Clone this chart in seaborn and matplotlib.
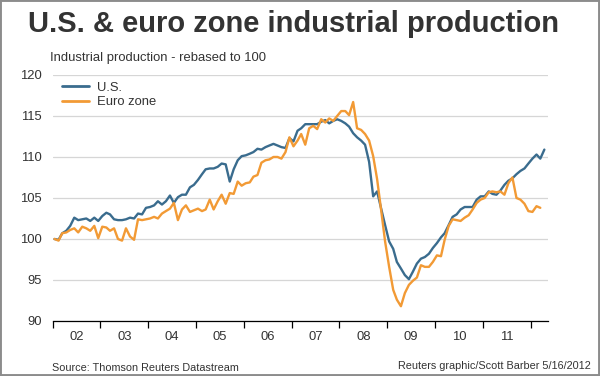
import matplotlib
matplotlib.use("Agg")
import matplotlib.pyplot as plt
from matplotlib.patches import Rectangle
import pandas as pd
import seaborn as sns

# %%
# Monthly industrial production, rebased to Jan 2002 = 100
us = [
    100.0, 99.9, 100.7, 101.0, 101.6, 102.6, 102.3, 102.4, 102.5, 102.2, 102.6, 102.2,  # 2002
    102.8, 103.2, 103.0, 102.4, 102.3, 102.3, 102.4, 102.6, 102.5, 103.1, 103.0, 103.8,  # 2003
    103.9, 104.1, 104.6, 104.2, 104.6, 105.3, 104.4, 105.1, 105.4, 105.4, 106.3, 106.6,  # 2004
    107.2, 107.9, 108.5, 108.6, 108.6, 108.8, 109.2, 109.1, 107.0, 108.5, 109.6, 110.1,  # 2005
    110.2, 110.4, 110.6, 111.0, 110.9, 111.2, 111.4, 111.6, 111.4, 111.2, 111.1, 112.3,  # 2006
    111.9, 113.2, 113.5, 114.0, 114.0, 114.0, 114.0, 114.3, 114.5, 114.1, 114.4, 114.6,  # 2007
    114.4, 114.1, 113.7, 112.9, 112.4, 112.0, 111.5, 109.4, 105.2, 105.8, 103.7, 101.7,  # 2008
    99.7, 98.8, 97.2, 96.4, 95.6, 95.1, 96.0, 97.0, 97.6, 97.8, 98.2, 98.9,  # 2009
    99.5, 100.2, 100.7, 101.7, 102.7, 103.0, 103.6, 103.9, 103.9, 103.9, 104.8, 105.2,  # 2010
    105.2, 105.8, 105.5, 105.4, 105.9, 106.6, 107.1, 107.4, 107.9, 108.3, 108.6, 109.2,  # 2011
    109.8, 110.3, 109.8, 110.9,  # 2012
]
euro = [
    100.0, 99.8, 100.7, 100.8, 101.1, 101.3, 100.8, 101.5, 101.3, 101.0, 101.6, 100.1,  # 2002
    101.5, 101.4, 101.0, 101.3, 100.0, 99.8, 101.3, 100.3, 99.9, 102.4, 102.3, 102.4,  # 2003
    102.5, 102.7, 102.5, 103.1, 103.4, 103.7, 104.4, 102.3, 103.6, 104.1, 103.3, 103.5,  # 2004
    103.7, 103.4, 103.6, 104.8, 103.6, 104.6, 105.4, 104.3, 105.6, 105.5, 107.0, 106.5,  # 2005
    106.8, 106.9, 107.6, 107.8, 109.3, 109.6, 109.7, 110.0, 110.0, 109.8, 110.6, 112.4,  # 2006
    111.3, 112.0, 112.8, 111.5, 113.5, 113.8, 113.4, 114.6, 114.2, 114.7, 114.4, 115.0,  # 2007
    115.6, 115.6, 115.1, 116.7, 113.5, 113.3, 112.8, 112.0, 110.1, 107.3, 103.5, 99.7,  # 2008
    96.6, 93.8, 92.6, 91.8, 93.4, 94.4, 94.9, 95.3, 96.8, 96.6, 96.6, 97.2,  # 2009
    98.0, 97.9, 99.9, 101.6, 102.4, 102.3, 102.2, 102.6, 102.9, 103.6, 104.4, 104.8,  # 2010
    105.0, 105.7, 105.8, 105.7, 105.8, 105.4, 106.8, 107.5, 105.0, 104.8, 104.3, 103.4,  # 2011
    103.3, 104.0, 103.8,  # 2012
]
series_names = ["U.S.", "Euro zone"]
year_labels = ["02", "03", "04", "05", "06", "07", "08", "09", "10", "11"]
y_ticks = [90, 95, 100, 105, 110, 115, 120]

# %%
# points sit in the middle of each month
us_dates = pd.date_range("2002-01-01", periods=len(us), freq="MS") + pd.Timedelta(days=14)
euro_dates = pd.date_range("2002-01-01", periods=len(euro), freq="MS") + pd.Timedelta(days=14)
df = pd.concat([
    pd.DataFrame({"date": us_dates, "value": us, "series": series_names[0]}),
    pd.DataFrame({"date": euro_dates, "value": euro, "series": series_names[1]}),
], ignore_index=True)

# %%
sns.set_style("white")
plt.rcParams["font.family"] = ["Liberation Sans", "DejaVu Sans"]
text_color = "#333333"

fig = plt.figure(figsize=(6.0, 3.76), dpi=100)
ax = fig.add_axes([0.0878, 0.1463, 0.826, 0.6543])

sns.lineplot(data=df, x="date", y="value", hue="series", hue_order=series_names,
             palette={"U.S.": "#3A6C8E", "Euro zone": "#F29A35"},
             linewidth=1.7, ax=ax)

ax.set_xlabel("")
ax.set_ylabel("")
ax.set_ylim(90, 120)
ax.set_yticks(y_ticks)
ax.set_xlim(pd.Timestamp("2002-01-01"), pd.Timestamp("2012-05-15"))

year_starts = pd.date_range("2002-01-01", "2012-01-01", freq="YS")
ax.set_xticks(year_starts, labels=[""] * len(year_starts))
mid_years = pd.to_datetime([f"20{y}-07-02" for y in year_labels])
ax.set_xticks(mid_years, labels=year_labels, minor=True)

ax.set_axisbelow(True)
ax.yaxis.grid(True, color="#d6d6d6", linewidth=0.9)
ax.xaxis.grid(False)
for side in ["left", "right", "top"]:
    ax.spines[side].set_visible(False)
ax.spines["bottom"].set_color("black")
ax.spines["bottom"].set_linewidth(0.9)

ax.tick_params(axis="y", length=0, pad=8, labelsize=9.4, labelcolor=text_color)
ax.tick_params(axis="x", which="major", bottom=True, length=5, width=0.9,
               color="black", direction="out")
ax.tick_params(axis="x", which="minor", bottom=True, length=0, pad=7,
               labelsize=9.4, labelcolor=text_color)

sns.move_legend(ax, "upper left", bbox_to_anchor=(0.0188, 0.972), frameon=False,
                title=None, fontsize=9.4, handlelength=2.1, handletextpad=0.6,
                labelspacing=0.15, borderaxespad=0, borderpad=0)
leg = ax.get_legend()
for h in leg.legend_handles:
    h.set_linewidth(2.0)
for t in leg.get_texts():
    t.set_color(text_color)

# %%
fig.text(0.046, 1 - 31.7 / 376, "U.S. & euro zone industrial production",
         fontsize=21, fontweight="bold", color=text_color, va="baseline")
fig.text(50 / 600, 1 - 61 / 376, "Industrial production - rebased to 100",
         fontsize=9.4, color=text_color, va="baseline")
fig.text(51.7 / 600, 1 - 371 / 376, "Source: Thomson Reuters Datastream",
         fontsize=7.8, color=text_color, va="baseline")
fig.text(591 / 600, 1 - 369 / 376, "Reuters graphic/Scott Barber 5/16/2012",
         fontsize=7.8, color=text_color, va="baseline", ha="right")

fig.patches.append(Rectangle((0, 0), 1, 1, transform=fig.transFigure, fill=False,
                             edgecolor="#8c8c8c", linewidth=2.8))

fig.savefig("out.png", dpi=100)
